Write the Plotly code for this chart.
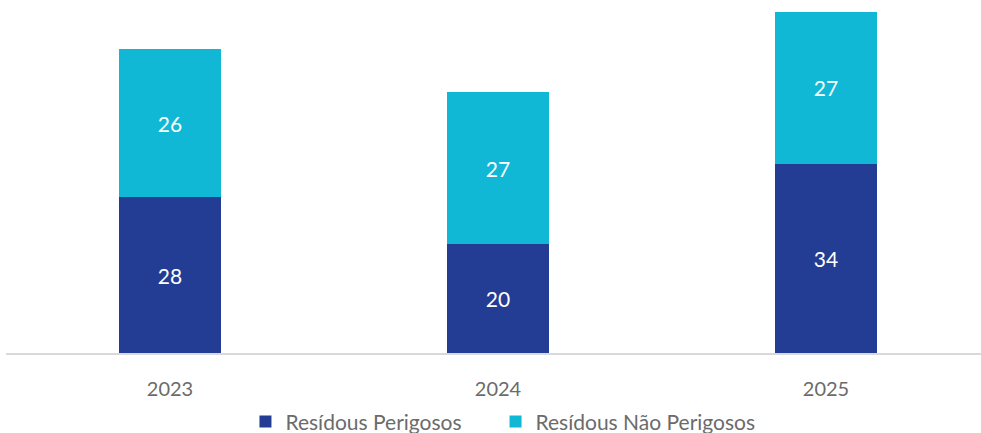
import plotly.graph_objects as go

years = ["2023", "2024", "2025"]
perigosos = [28.0, 19.6, 34.0]
nao_perigosos = [26.6, 27.2, 27.2]
perigosos_labels = ["28", "20", "34"]
nao_perigosos_labels = ["26", "27", "27"]

dark = "#233D94"
cyan = "#10B8D5"
font_family = "Lato, 'Open Sans', sans-serif"

fig = go.Figure()
fig.add_trace(go.Bar(
    x=years, y=perigosos, name="Resídous Perigosos",
    marker=dict(color=dark, line=dict(width=0)),
    text=perigosos_labels, textposition="inside", insidetextanchor="middle",
    textfont=dict(color="white", size=21, family=font_family),
    width=0.311, legend="legend",
))
fig.add_trace(go.Bar(
    x=years, y=nao_perigosos, name="Resídous Não Perigosos",
    marker=dict(color=cyan, line=dict(width=0)),
    text=nao_perigosos_labels, textposition="inside", insidetextanchor="middle",
    textfont=dict(color="white", size=21, family=font_family),
    width=0.311, legend="legend2",
))

legend_common = dict(orientation="h", xanchor="left", y=-0.137, yanchor="top",
                     font=dict(size=21, color="#6B6B6B"), itemwidth=30,
                     bgcolor="rgba(0,0,0,0)")

fig.update_layout(
    barmode="stack",
    width=981, height=433,
    margin=dict(l=6, r=0, t=0, b=80, autoexpand=False),
    paper_bgcolor="white", plot_bgcolor="white",
    font=dict(family=font_family, color="#6B6B6B", size=20),
    showlegend=True,
    legend=dict(x=0.2456, **legend_common),
    legend2=dict(x=0.5021, **legend_common),
    uniformtext=dict(mode=False),
)
fig.update_xaxes(
    type="category", range=[-0.5, 2.4726], automargin=False,
    showline=True, linecolor="#D9D9D9", linewidth=2,
    showgrid=False, ticks="", ticklabelstandoff=17,
    tickfont=dict(size=20, color="#6B6B6B"),
)
fig.update_yaxes(range=[0, 63.4], visible=False, showgrid=False, zeroline=False, automargin=False)

fig.write_html(
    "out.html",
    config={"displayModeBar": False},
    post_script="document.body.style.margin='0';document.body.style.overflow='hidden';",
)
